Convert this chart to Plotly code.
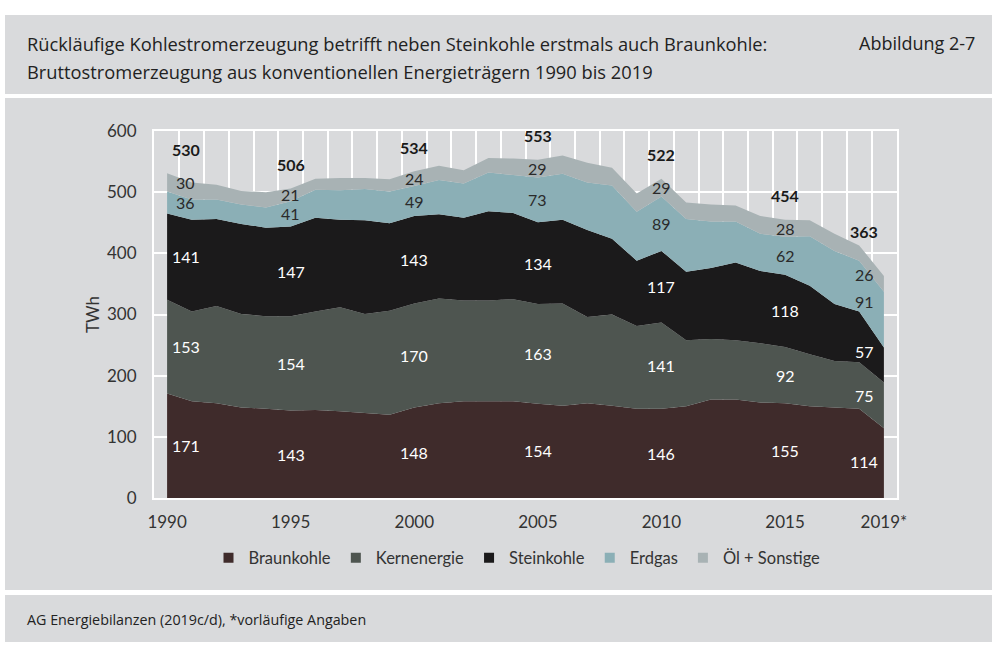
import plotly.graph_objects as go

years = list(range(1990, 2020))
braunkohle = [171, 158, 155, 148, 146, 143, 144, 142, 139, 136, 148, 155, 158, 158, 158,
              154, 151, 155, 151, 146, 146, 150, 161, 161, 156, 155, 150, 148, 146, 114]
kernenergie = [153, 147, 159, 153, 151, 154, 161, 170, 162, 170, 170, 171, 165, 165, 167,
               163, 167, 141, 149, 135, 141, 108, 99, 97, 97, 92, 85, 76, 76, 75]
steinkohle = [141, 150, 142, 147, 145, 147, 153, 143, 153, 143, 143, 138, 135, 146, 141,
              134, 137, 142, 124, 107, 117, 112, 116, 127, 118, 118, 112, 93, 83, 57]
erdgas = [36, 33, 32, 32, 33, 41, 46, 48, 51, 52, 49, 56, 56, 63, 62,
          73, 75, 78, 87, 80, 89, 86, 76, 67, 61, 62, 81, 87, 83, 91]
oel_sonstige = [30, 28, 24, 22, 25, 21, 18, 20, 18, 20, 24, 23, 22, 24, 27,
                29, 30, 32, 29, 30, 29, 27, 28, 26, 29, 28, 26, 28, 25, 26]

series_names = ["Braunkohle", "Kernenergie", "Steinkohle", "Erdgas", "Öl + Sonstige"]
series_values = [braunkohle, kernenergie, steinkohle, erdgas, oel_sonstige]
series_colors = ["#3f2b2b", "#4e5550", "#1b1a1b", "#8bafb6", "#a8b2b4"]
label_colors = ["white", "white", "white", "#2a2a2a", "#2a2a2a"]

label_years = [1990, 1995, 2000, 2005, 2010, 2015, 2019]
label_totals = [530, 506, 534, 553, 522, 454, 363]

tick_vals = [1990, 1995, 2000, 2005, 2010, 2015, 2019]
tick_text = ["1990", "1995", "2000", "2005", "2010", "2015", "2019*"]

# layout helpers (label placement)
label_x_pos = {1990: 1990.75, 2019: 2018.2}
label_y_2019 = [59, 168, 240, 321, 366]
total_y_2019 = 435

FONT = "Lato"
TFONT = "Open Sans"
PANEL = "#d9dadc"

fig = go.Figure()
for name, vals, col in zip(series_names, series_values, series_colors):
    fig.add_trace(go.Scatter(
        x=years, y=vals, name=name, stackgroup="one", mode="none",
        fillcolor=col, line=dict(width=0), showlegend=False, hoverinfo="x+y+name"))
for name, col in zip(series_names, series_colors):
    fig.add_trace(go.Scatter(
        x=[None], y=[None], name=name, mode="markers",
        marker=dict(symbol="square", size=10, color=col), showlegend=True))

annotations = []
for yr, tot in zip(label_years, label_totals):
    i = years.index(yr)
    xpos = label_x_pos.get(yr, yr)
    cum = 0
    for k, vals in enumerate(series_values):
        v = vals[i]
        ymid = cum + v / 2
        if yr == 2019:
            ymid = label_y_2019[k]
        cum += v
        annotations.append(dict(x=xpos, y=ymid, xref="x", yref="y", text=str(v),
                                showarrow=False, font=dict(family=FONT, size=16, color=label_colors[k])))
    ytot = total_y_2019 if yr == 2019 else cum + 39
    annotations.append(dict(x=xpos, y=ytot, xref="x", yref="y", text="<b>%d</b>" % tot,
                            showarrow=False, font=dict(family=FONT, size=16, color="#1a1a1a")))

# plot-area geometry in pixels
L, R, T, B = 154, 897, 131, 498
W, H = R - L, B - T


def px(x):
    return (x - L) / W


def py(y):
    return (B - y) / H


shapes = []
for (y0, y1) in [(15, 94), (98, 590), (595, 642)]:
    shapes.append(dict(type="rect", xref="paper", yref="paper", x0=px(5), x1=px(992),
                       y0=py(y1), y1=py(y0), fillcolor=PANEL, line=dict(width=0), layer="below"))

annotations += [
    dict(x=px(25), y=py(43), xref="paper", yref="paper", xanchor="left", yanchor="middle",
         text="Rückläufige Kohlestromerzeugung betrifft neben Steinkohle erstmals auch Braunkohle:",
         showarrow=False, font=dict(family=TFONT, size=18.3, color="#222")),
    dict(x=px(25), y=py(72), xref="paper", yref="paper", xanchor="left", yanchor="middle",
         text="Bruttostromerzeugung aus konventionellen Energieträgern 1990 bis 2019",
         showarrow=False, font=dict(family=TFONT, size=18.3, color="#222")),
    dict(x=px(977), y=py(43), xref="paper", yref="paper", xanchor="right", yanchor="middle",
         text="Abbildung 2-7", showarrow=False, font=dict(family=TFONT, size=18, color="#222")),
    dict(x=px(25), y=py(619), xref="paper", yref="paper", xanchor="left", yanchor="middle",
         text="AG Energiebilanzen (2019c/d), *vorläufige Angaben",
         showarrow=False, font=dict(family=TFONT, size=14.3, color="#222")),
    dict(x=px(92), y=py(315), xref="paper", yref="paper", xanchor="center", yanchor="middle",
         text="TWh", textangle=-90, showarrow=False, font=dict(family=FONT, size=17, color="#333")),
]

fig.update_layout(
    width=1000, height=666,
    margin=dict(l=L, r=1000 - R, t=T, b=666 - B, autoexpand=False),
    paper_bgcolor="white", plot_bgcolor="rgba(0,0,0,0)",
    font=dict(family=FONT, size=17, color="#333"),
    shapes=shapes, annotations=annotations,
    legend=dict(orientation="h", x=px(517), xanchor="center", y=py(558), yanchor="middle",
                bgcolor="rgba(0,0,0,0)", font=dict(family=FONT, size=16.5, color="#333"),
                itemwidth=30, traceorder="normal"),
    xaxis=dict(range=[1989.47, 2019.53], tickvals=tick_vals, ticktext=tick_text,
               showgrid=False, zeroline=False, ticks="outside", ticklen=8,
               tickcolor="rgba(0,0,0,0)", showline=True, mirror=True, linecolor="white",
               linewidth=2, tickfont=dict(family=FONT, size=17, color="#333"),
               minor=dict(tick0=1989.5, dtick=1, showgrid=True, gridcolor="white", gridwidth=1.5)),
    yaxis=dict(range=[0, 600], dtick=100, showgrid=True, gridcolor="white", gridwidth=1.5,
               zeroline=False, ticks="outside", ticklen=12, tickcolor="rgba(0,0,0,0)",
               showline=True, mirror=True, linecolor="white", linewidth=2,
               tickfont=dict(family=FONT, size=17, color="#333")),
)

fig.write_html("out.html", config={"displayModeBar": False},
               post_script="document.body.style.margin='0';document.body.style.overflow='hidden';")
